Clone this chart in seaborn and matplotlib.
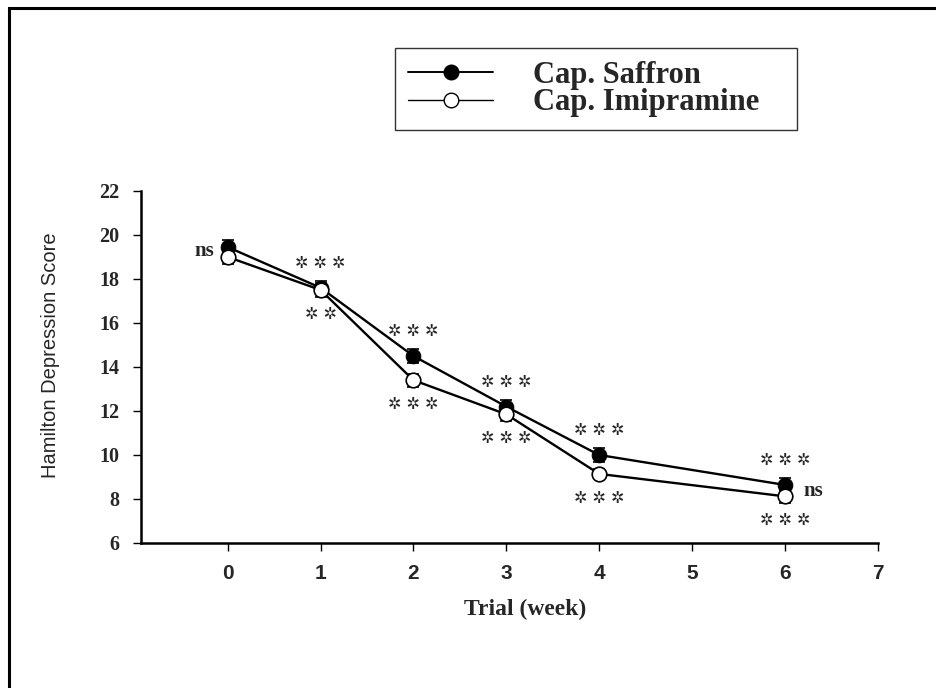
import seaborn as sns
import matplotlib.pyplot as plt
from matplotlib.lines import Line2D
from matplotlib.patches import Rectangle
import numpy as np, pandas as pd

# values
weeks = [0, 1, 2, 3, 4, 6]
saffron = [19.45, 17.6, 14.5, 12.2, 10.0, 8.64]
imipramine = [19.0, 17.5, 13.4, 11.85, 9.14, 8.12]
saffron_sem = [0.3, 0.3, 0.3, 0.3, 0.3, 0.3]
imipramine_sem = [0.3, 0.3, 0.3, 0.3, 0.2, 0.3]
sig_above = ["", "✲ ✲ ✲", "✲ ✲ ✲", "✲ ✲ ✲", "✲ ✲ ✲", "✲ ✲ ✲"]
sig_below = ["", "✲ ✲", "✲ ✲ ✲", "✲ ✲ ✲", "✲ ✲ ✲", "✲ ✲ ✲"]
x_ticks = [0, 1, 2, 3, 4, 5, 6, 7]
y_ticks = [6, 8, 10, 12, 14, 16, 18, 20, 22]

sns.set_style("white")
plt.rcParams['font.family'] = ['Liberation Serif', 'DejaVu Sans']

frame = pd.DataFrame({"week": weeks, "Cap. Saffron": saffron, "Cap. Imipramine": imipramine})

fig = plt.figure(figsize=(9.36, 6.88), dpi=100)
ax = fig.add_axes([0.1506, 0.2108, 0.787, 0.5116])

# error bars first, then lines + markers on top
ax.errorbar(weeks, saffron, yerr=saffron_sem, fmt='none', ecolor='black', elinewidth=1.2, capsize=4.5, capthick=1.2, zorder=2)
ax.errorbar(weeks, imipramine, yerr=imipramine_sem, fmt='none', ecolor='black', elinewidth=1.2, capsize=4.5, capthick=1.2, zorder=2)
sns.lineplot(data=frame, x="week", y="Cap. Saffron", ax=ax, color='black', linewidth=1.7,
             marker='o', markersize=10.5, markerfacecolor='black', markeredgecolor='black', zorder=3)
sns.lineplot(data=frame, x="week", y="Cap. Imipramine", ax=ax, color='black', linewidth=1.7,
             marker='o', markersize=10.5, markerfacecolor='white', markeredgecolor='black', markeredgewidth=1.2, zorder=4)

# significance marks
for w, s, i, a, b in zip(weeks, saffron, imipramine, sig_above, sig_below):
    if a:
        ax.text(w, s + 1.1, a, ha='center', va='center', fontsize=11.5, family=['DejaVu Sans'])
    if b:
        ax.text(w, i - 1.1, b, ha='center', va='center', fontsize=11.5, family=['DejaVu Sans'])
ax.text(weeks[0] - 0.15, (saffron[0] + imipramine[0]) / 2 + 0.05, "ns", ha='right', va='center', fontsize=15, fontweight='bold')
ax.text(weeks[-1] + 0.2, (saffron[-1] + imipramine[-1]) / 2, "ns", ha='left', va='center', fontsize=15, fontweight='bold')

ax.set_xlim(-0.935, 7)
ax.set_ylim(6, 22)
ax.set_xticks(x_ticks)
ax.set_yticks(y_ticks)
ax.set_xticklabels([str(t) for t in x_ticks], fontsize=15, fontweight='bold', family=['Liberation Sans', 'DejaVu Sans'])
ax.set_yticklabels([str(t) for t in y_ticks], fontsize=14.5, fontweight='bold')
ax.tick_params(axis='both', direction='out', length=5.5, width=1, color='black', bottom=True, left=True)
ax.tick_params(axis='x', pad=10)
ax.tick_params(axis='y', pad=10)

sns.despine(ax=ax)
for sp in ['left', 'bottom']:
    ax.spines[sp].set_color('black')
    ax.spines[sp].set_linewidth(1.8)

ax.set_xlabel("Trial (week)", fontsize=17, fontweight='bold')
ax.xaxis.set_label_coords(0.522, -0.16)
ax.set_ylabel("Hamilton Depression Score", fontsize=14.5, family=['Liberation Sans', 'DejaVu Sans'])
ax.yaxis.set_label_coords(-0.11, 0.534)

handles = [
    Line2D([], [], color='black', linewidth=1.4, marker='o', markersize=10.5, markerfacecolor='black', markeredgecolor='black'),
    Line2D([], [], color='black', linewidth=1.0, marker='o', markersize=10.5, markerfacecolor='white', markeredgecolor='black'),
]
leg = fig.legend(handles, ["Cap. Saffron", "Cap. Imipramine"], loc='upper left', mode='expand',
                 bbox_to_anchor=(395 / 936, 1 - 127 / 688, 402 / 936, 79 / 688), borderaxespad=0,
                 frameon=True, fancybox=False, edgecolor='black', handlelength=2.8, handletextpad=1.3,
                 borderpad=0.42, labelspacing=-0.05,
                 prop={'family': 'Liberation Serif', 'weight': 'bold', 'size': 22})
leg.get_frame().set_linewidth(1.0)

# outer frame of the figure
fig.patches.append(Rectangle((9 / 936, -0.2), 1.3, 1 - 8 / 688 + 0.2, transform=fig.transFigure,
                             fill=False, edgecolor='black', linewidth=2.2))

plt.savefig("out.png", dpi=100, facecolor='white')
plt.close()
